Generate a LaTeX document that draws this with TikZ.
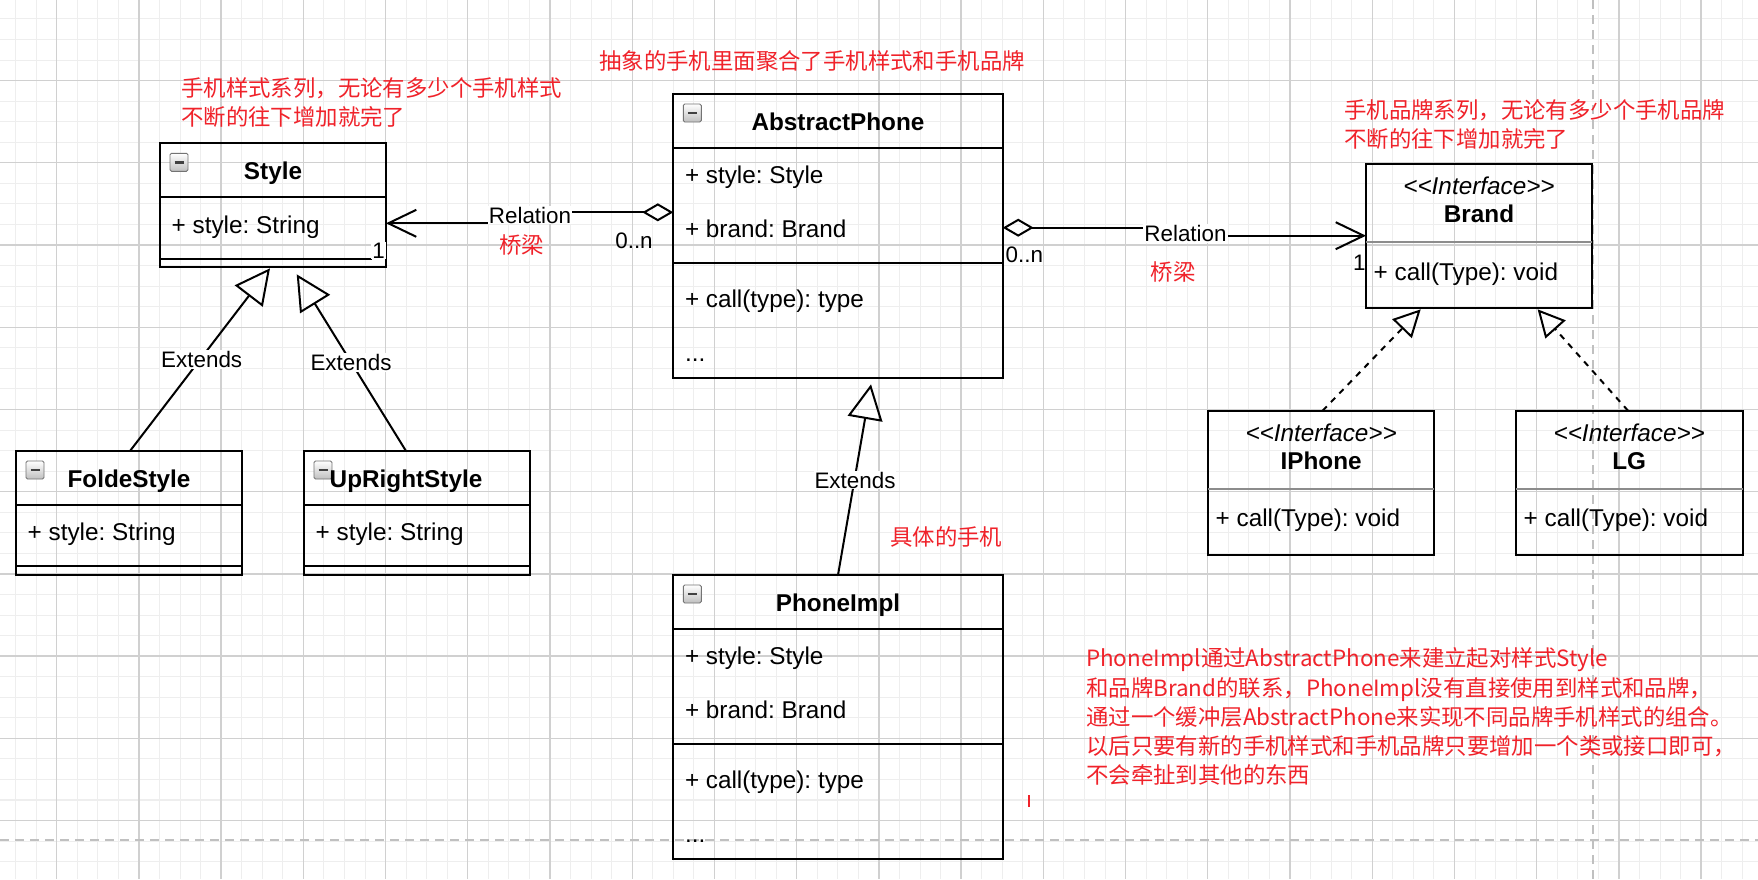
\documentclass[tikz,border=0pt]{standalone}
\usepackage{fontspec}
\setmainfont{Liberation Sans}
\newfontfamily\cjk{Noto Sans CJK SC}
\usetikzlibrary{arrows.meta}
\definecolor{redtxt}{RGB}{240,34,42}
\definecolor{gmajor}{RGB}{208,208,208}
\definecolor{gminor}{RGB}{238,238,238}
\definecolor{pbreak}{RGB}{192,192,192}
\newcommand\clicon[1]{%
  \shade[top color=white, bottom color=gray!50, draw=gray!90!black, line width=0.9pt, rounded corners=1.5pt]
    ([xshift=10pt,yshift=-10pt]#1.north west) rectangle ++(18,18);
  \draw[line width=2.4pt, black!75] ([xshift=14.5pt,yshift=-19pt]#1.north west) -- ++(9,0);
}
\frenchspacing
\begin{document}
\begin{tikzpicture}[x=1pt,y=-1pt,
  box/.style={draw, line width=2pt, inner sep=0pt, outer sep=0pt, anchor=north west},
  ttl/.style={font=\fontsize{24.3}{29}\selectfont\bfseries, inner sep=0pt, anchor=base},
  itm/.style={font=\fontsize{24.3}{29}\selectfont, inner sep=0pt, anchor=base west},
  ster/.style={font=\fontsize{24.3}{29}\selectfont\itshape, inner sep=0pt, anchor=base},
  elab/.style={font=\fontsize{22.4}{27}\selectfont, fill=white, inner sep=1pt, anchor=base},
  mult/.style={font=\fontsize{22.4}{27}\selectfont, inner sep=0pt, anchor=base},
  note/.style={font=\cjk\fontsize{22.4}{29.2}\selectfont, text=redtxt, inner sep=0pt, anchor=base west},
  notec/.style={note, anchor=base},
  divl/.style={line width=2pt},
  idiv/.style={line width=2pt, draw=black!45},
  edge/.style={line width=2pt},
  real/.style={line width=2pt, dash pattern=on 6pt off 6pt},
  ext/.style={-{Triangle[open, length=35pt, width=35pt]}},
  rext/.style={-{Triangle[open, length=27pt, width=27pt]}},
  rel/.style={{Diamond[open, length=31pt, width=18pt]}-{Straight Barb[length=28pt, width=27pt]}}
]
\useasboundingbox (0,0) rectangle (1758,879);
\fill[white] (0,0) rectangle (1758,879);
% grid
\foreach \k in {0,...,86}{\pgfmathsetmacro\gx{56.7+20.555*(\k-2)}\draw[gminor, line width=1pt] (\gx,0) -- (\gx,879);}
\foreach \k in {1,...,43}{\pgfmathsetmacro\gy{-1.66+20.555*\k}\draw[gminor, line width=1pt] (0,\gy) -- (1758,\gy);}
\foreach \k in {0,...,20}{\pgfmathsetmacro\gx{56.7+82.22*\k}\draw[gmajor, line width=1.3pt] (\gx,0) -- (\gx,879);}
\foreach \k in {1,...,10}{\pgfmathsetmacro\gy{-1.66+82.22*\k}\draw[gmajor, line width=1.3pt] (0,\gy) -- (1758,\gy);}
% page breaks
\draw[pbreak, line width=2pt, dash pattern=on 9pt off 6pt] (1592.5,0) -- (1592.5,879);
\draw[pbreak, line width=2pt, dash pattern=on 9pt off 6pt] (0,840) -- (1758,840);

% ---------- Style ----------
\node[box, minimum width=226pt, minimum height=123.5pt] (style) at (160,143.3) {};
\clicon{style}
\node[ttl] (style-t) at ([yshift=-36pt]style.north) {Style};
\draw[divl] ([yshift=-53.5pt]style.north west) -- ([yshift=-53.5pt]style.north east);
\node[itm] (style-a1) at ([xshift=11.5pt,yshift=-89.75pt]style.north west) {+ style: String};
\draw[divl] ([yshift=-115.2pt]style.north west) -- ([xshift=-14pt,yshift=-115.2pt]style.north east);

% ---------- FoldeStyle ----------
\node[box, minimum width=226pt, minimum height=123.5pt] (folde) at (16,451) {};
\clicon{folde}
\node[ttl] (folde-t) at ([yshift=-36pt]folde.north) {FoldeStyle};
\draw[divl] ([yshift=-53.5pt]folde.north west) -- ([yshift=-53.5pt]folde.north east);
\node[itm] (folde-a1) at ([xshift=11.5pt,yshift=-89.75pt]folde.north west) {+ style: String};
\draw[divl] ([yshift=-115.2pt]folde.north west) -- ([yshift=-115.2pt]folde.north east);

% ---------- UpRightStyle ----------
\node[box, minimum width=226pt, minimum height=123.5pt] (upright) at (304,451) {};
\clicon{upright}
\node[ttl] (upright-t) at ([xshift=-11pt,yshift=-36pt]upright.north) {UpRightStyle};
\draw[divl] ([yshift=-53.5pt]upright.north west) -- ([yshift=-53.5pt]upright.north east);
\node[itm] (upright-a1) at ([xshift=11.5pt,yshift=-89.75pt]upright.north west) {+ style: String};
\draw[divl] ([yshift=-115.2pt]upright.north west) -- ([yshift=-115.2pt]upright.north east);

% ---------- AbstractPhone ----------
\node[box, minimum width=329.4pt, minimum height=283.8pt] (ap) at (673.3,94) {};
\clicon{ap}
\node[ttl] (ap-t) at ([yshift=-36pt]ap.north) {AbstractPhone};
\draw[divl] ([yshift=-53.5pt]ap.north west) -- ([yshift=-53.5pt]ap.north east);
\node[itm] (ap-a1) at ([xshift=11.5pt,yshift=-89.75pt]ap.north west) {+ style: Style};
\node[itm] (ap-a2) at ([xshift=11.5pt,yshift=-143.25pt]ap.north west) {+ brand: Brand};
\draw[divl] ([yshift=-168.7pt]ap.north west) -- ([yshift=-168.7pt]ap.north east);
\node[itm] (ap-m1) at ([xshift=11.5pt,yshift=-213.3pt]ap.north west) {+ call(type): type};
\node[itm] (ap-m2) at ([xshift=11.5pt,yshift=-267pt]ap.north west) {...};

% ---------- PhoneImpl ----------
\node[box, minimum width=329.4pt, minimum height=283.8pt] (pi) at (673.3,575) {};
\clicon{pi}
\node[ttl] (pi-t) at ([yshift=-36pt]pi.north) {PhoneImpl};
\draw[divl] ([yshift=-53.5pt]pi.north west) -- ([yshift=-53.5pt]pi.north east);
\node[itm] (pi-a1) at ([xshift=11.5pt,yshift=-89.75pt]pi.north west) {+ style: Style};
\node[itm] (pi-a2) at ([xshift=11.5pt,yshift=-143.25pt]pi.north west) {+ brand: Brand};
\draw[divl] ([yshift=-168.7pt]pi.north west) -- ([yshift=-168.7pt]pi.north east);
\node[itm] (pi-m1) at ([xshift=11.5pt,yshift=-213.3pt]pi.north west) {+ call(type): type};
\node[itm] (pi-m2) at ([xshift=11.5pt,yshift=-267pt]pi.north west) {...};

% ---------- Brand ----------
\node[box, minimum width=226pt, minimum height=144pt] (brand) at (1366,164) {};
\node[ster] (brand-s) at ([yshift=-30.6pt]brand.north) {<{}<Interface>{}>};
\node[ttl] (brand-t) at ([yshift=-58.8pt]brand.north) {Brand};
\draw[idiv] ([yshift=-78.2pt]brand.north west) -- ([yshift=-78.2pt]brand.north east);
\node[itm] (brand-m1) at ([xshift=7.5pt,yshift=-116pt]brand.north west) {+ call(Type): void};

% ---------- IPhone ----------
\node[box, minimum width=226.3pt, minimum height=144pt] (iphone) at (1208,410.7) {};
\node[ster] (iphone-s) at ([yshift=-30.6pt]iphone.north) {<{}<Interface>{}>};
\node[ttl] (iphone-t) at ([yshift=-58.8pt]iphone.north) {IPhone};
\draw[idiv] ([yshift=-78.2pt]iphone.north west) -- ([yshift=-78.2pt]iphone.north east);
\node[itm] (iphone-m1) at ([xshift=7.5pt,yshift=-116pt]iphone.north west) {+ call(Type): void};

% ---------- LG ----------
\node[box, minimum width=226.5pt, minimum height=144pt] (lg) at (1516,410.7) {};
\node[ster] (lg-s) at ([yshift=-30.6pt]lg.north) {<{}<Interface>{}>};
\node[ttl] (lg-t) at ([yshift=-58.8pt]lg.north) {LG};
\draw[idiv] ([yshift=-78.2pt]lg.north west) -- ([yshift=-78.2pt]lg.north east);
\node[itm] (lg-m1) at ([xshift=7.5pt,yshift=-116pt]lg.north west) {+ call(Type): void};

% ---------- connectors ----------
\draw[edge, rel] ([yshift=-118.3pt]ap.north west) -- (530,212.3) -- (530,223.3) -- ([yshift=-80pt]style.north east);
\node[elab] (rel1) at (530,223) {Relation};
\draw[edge, rel] ([yshift=-133.7pt]ap.north east) -- (1185,227.7) -- (1185,235.7) -- ([yshift=-71.7pt]brand.north west);
\node[elab] (rel2) at (1185.5,241.3) {Relation};

\draw[edge, ext] ([xshift=1pt]folde.north) -- ([xshift=-3pt,yshift=-1.5pt]style.south);
\node[elab] (ext1) at (201.7,367.3) {Extends};
\draw[edge, ext] ([xshift=-11pt]upright.north) -- ([xshift=23.7pt,yshift=-7.5pt]style.south);
\node[elab] (ext2) at (351,370.7) {Extends};
\draw[edge, ext] (pi.north) -- ([xshift=33pt,yshift=-6.5pt]ap.south);
\node[elab] (ext3) at (855,488) {Extends};

\draw[real, rext] ([xshift=1.5pt]iphone.north) -- ([xshift=-58.3pt,yshift=-1.3pt]brand.south);
\draw[real, rext] ([xshift=-1.25pt]lg.north) -- ([xshift=58.6pt,yshift=-1.3pt]brand.south);

% multiplicities
\node[mult] (m1) at (634,248) {0..n};
\node[mult] (m2) at (1024.3,262) {0..n};
\node[mult, fill=white, inner sep=1pt] (m3) at (378.6,258.3) {1};
\node[mult] (m4) at (1359.3,270) {1};

% red notes
\node[notec] (q1) at (521.4,253.5) {桥梁};
\node[notec] (q2) at (1173.3,280.2) {桥梁};
\node[note] (n1a) at (181,96.8) {手机样式系列，无论有多少个手机样式};
\node[note] (n1b) at (181,125.2) {不断的往下增加就完了};
\node[note] (n2) at (599,69.2) {抽象的手机里面聚合了手机样式和手机品牌};
\node[note] (n3a) at (1344,118.5) {手机品牌系列，无论有多少个手机品牌};
\node[note] (n3b) at (1344,147.8) {不断的往下增加就完了};
\node[note] (n4) at (890,545.1) {具体的手机};
\node[note] (n5a) at (1086,666.8) {PhoneImpl通过AbstractPhone来建立起对样式Style};
\node[note] (n5b) at (1086,696) {和品牌Brand的联系，PhoneImpl没有直接使用到样式和品牌，};
\node[note] (n5c) at (1086,725.2) {通过一个缓冲层AbstractPhone来实现不同品牌手机样式的组合。};
\node[note] (n5d) at (1086,754.4) {以后只要有新的手机样式和手机品牌只要增加一个类或接口即可，};
\node[note] (n5e) at (1086,783.6) {不会牵扯到其他的东西};
\draw[redtxt, line width=2.2pt] (1029,795) -- (1029,807);
\end{tikzpicture}
\end{document}
